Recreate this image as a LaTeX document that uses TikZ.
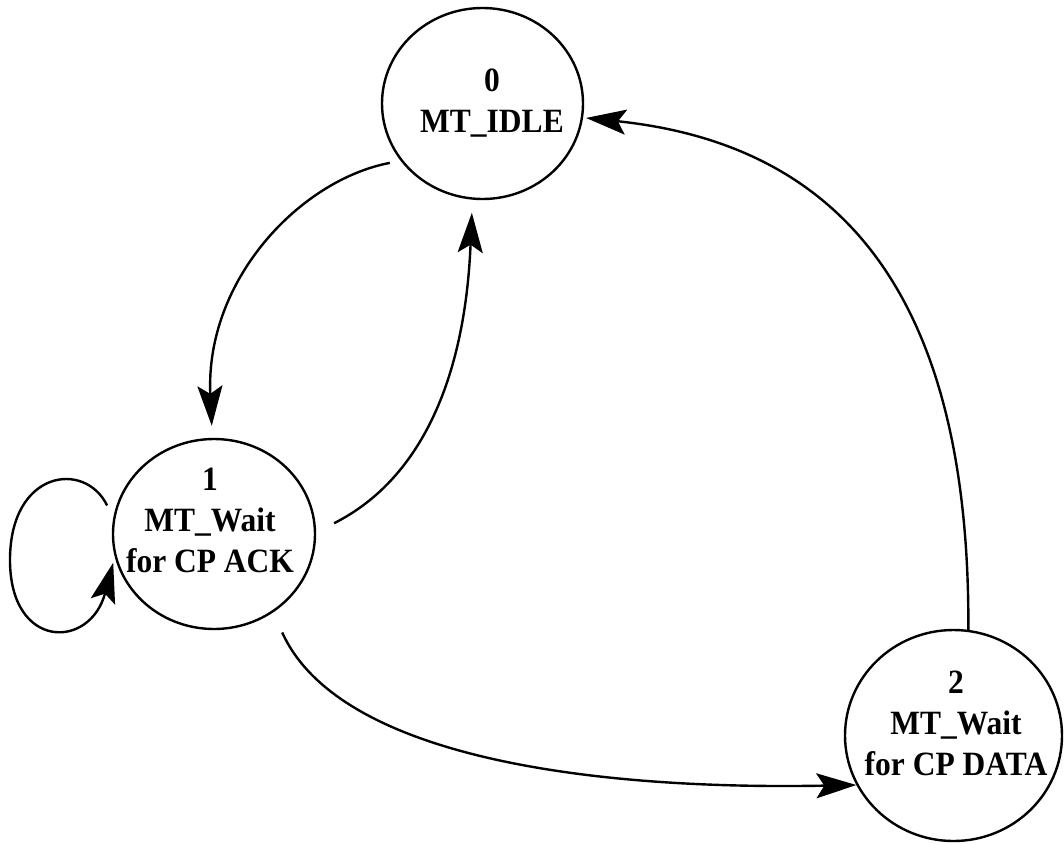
\documentclass[tikz,border=0pt]{standalone}
\usepackage{fontspec}
\setmainfont{Liberation Serif}
\usetikzlibrary{arrows.meta,shapes.geometric}
\begin{document}
\begin{tikzpicture}[x=1pt,y=-1pt,
  state/.style={draw=black,line width=2.4pt,ellipse,inner sep=0pt},
  statetext/.style={align=center,font=\bfseries\fontsize{31.5}{38}\selectfont,inner sep=0pt,yscale=1.08,transform shape},
  trans/.style={draw=black,line width=2.4pt,-{Stealth[length=40pt,width=25pt,inset=8pt]}}]
\fill[white] (0,0) rectangle (1064,843);
\useasboundingbox (0,0) rectangle (1064,843);
\node[state,minimum width=201pt,minimum height=191pt] (s0) at (482.5,103.5) {};
\node[state,minimum width=202pt,minimum height=190pt] (s1) at (214,534) {};
\node[state,minimum width=217pt,minimum height=211pt] (s2) at (953.5,735.5) {};
\node[statetext] (t0) at (492,103) {0\\MT\_IDLE};
\node[statetext] (t1) at (210,520) {1\\MT\_Wait\\for CP ACK};
\node[statetext] (t2) at (956,723) {2\\MT\_Wait\\for CP DATA};
% 0 -> 1
\draw[trans,shorten <=11pt,shorten >=12pt] (s0.215.8) .. controls (300,180) and (205,280) .. (s1.91);
% 1 -> 0
\draw[trans,shorten <=20pt,shorten >=13pt] (s1.1) .. controls (420,480) and (465,380) .. (s0.264);
% 2 -> 0
\draw[trans,shorten >=3pt] (s2.82) .. controls (970,300) and (845,145) .. (s0.-8);
% 1 -> 2
\draw[trans,shorten <=22pt] (s1.307.8) .. controls (340,760) and (600,790) .. (s2.207.2);
% self loop on 1
\draw[trans,shorten <=14pt,shorten >=6pt] (s1.171.5) .. controls (85,460) and (10,470) .. (10,560) .. controls (10,650) and (90,650) .. (s1.193);
\end{tikzpicture}
\end{document}
